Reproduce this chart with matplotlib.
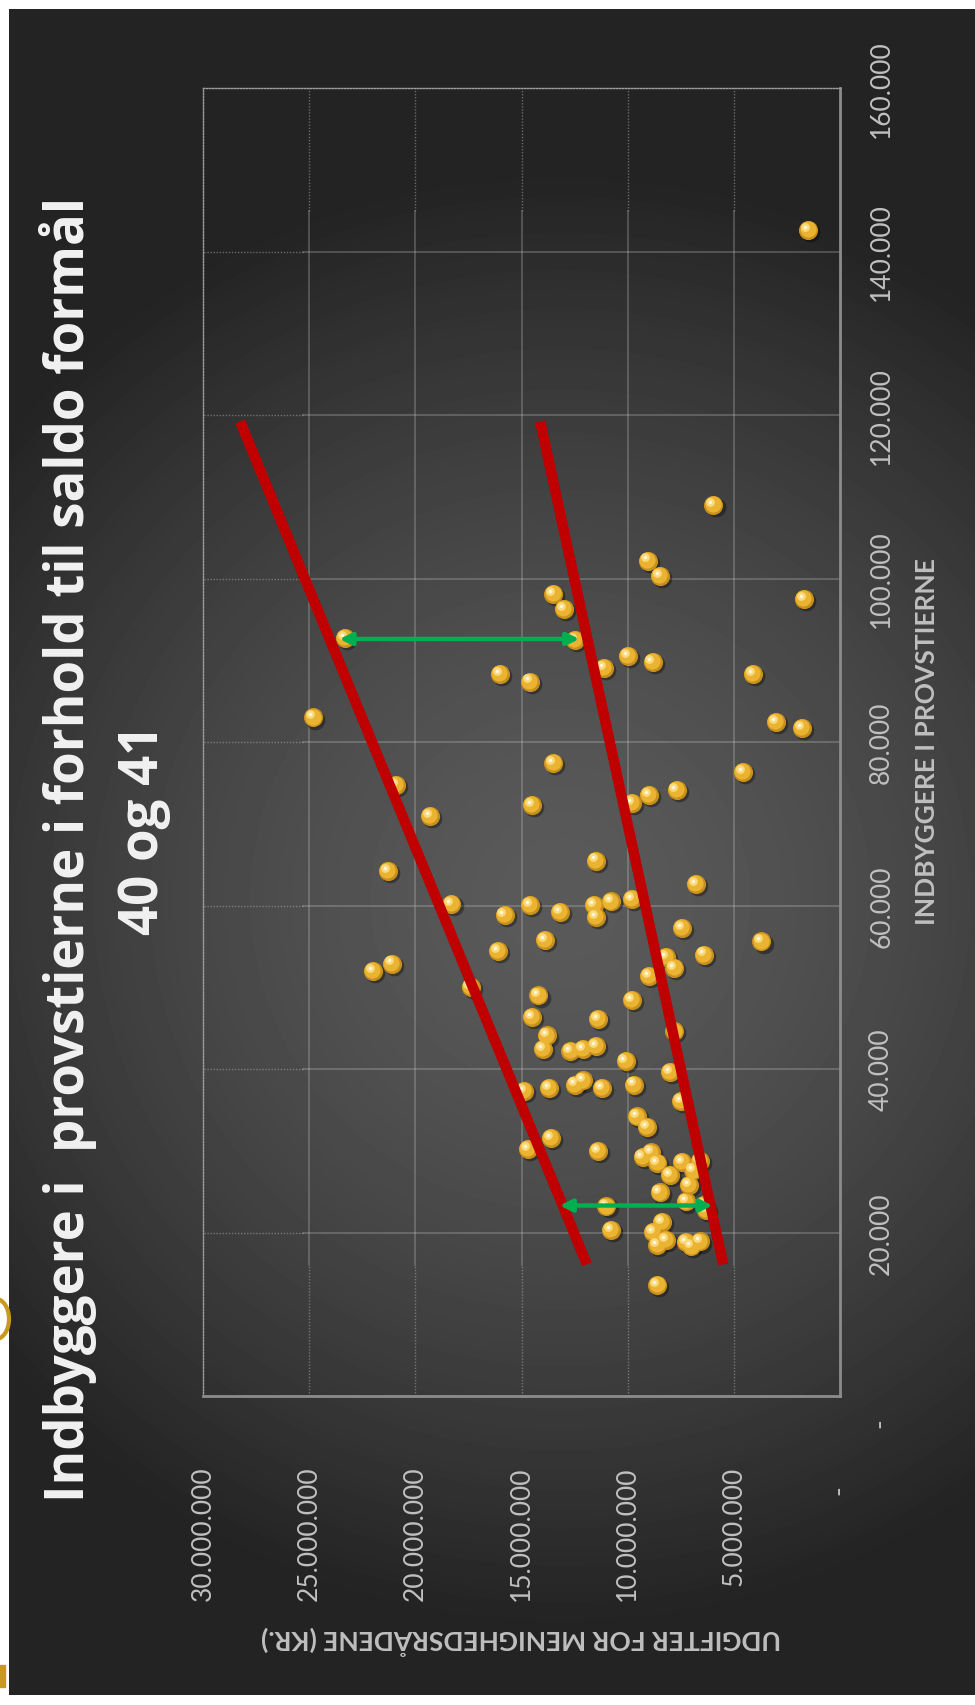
import numpy as np
import matplotlib.pyplot as plt
from matplotlib import transforms
from matplotlib.patches import Arc, Rectangle

# Udgifter for menighedsrådene (kr.) og indbyggere i provstierne
udgifter = [1.49e6, 5.96e6, 9.04e6, 8.47e6, 1.69e6, 13.5e6, 13.0e6, 23.3e6, 12.5e6, 10.0e6,
            8.83e6, 11.1e6, 16.0e6, 14.6e6, 4.1e6, 24.8e6, 3.0e6, 1.8e6, 13.5e6, 4.57e6,
            20.9e6, 7.7e6, 9.0e6, 14.5e6, 9.8e6, 19.3e6, 11.5e6, 21.3e6, 6.78e6, 18.3e6,
            14.6e6, 11.6e6, 10.8e6, 9.8e6, 15.8e6, 13.2e6, 11.5e6, 7.45e6, 13.9e6, 3.7e6,
            22.0e6, 21.1e6, 16.1e6, 8.2e6, 6.4e6, 7.8e6, 9.0e6, 17.4e6, 14.2e6, 9.8e6,
            14.5e6, 11.4e6, 7.8e6, 13.8e6, 11.5e6, 14.0e6, 12.7e6, 12.1e6, 10.1e6, 8.0e6,
            12.1e6, 12.5e6, 13.7e6, 11.2e6, 14.9e6, 9.7e6, 7.5e6, 9.55e6, 9.1e6, 13.6e6,
            14.7e6, 11.4e6, 8.9e6, 9.3e6, 8.6e6, 7.45e6, 6.6e6, 6.9e6, 8.0e6, 7.1e6,
            8.5e6, 7.25e6, 11.0e6, 6.3e6, 6.4e6, 8.4e6, 10.8e6, 8.8e6, 8.2e6, 8.6e6,
            7.25e6, 6.6e6, 7.0e6, 8.6e6]
indbyggere = [142600, 109000, 102200, 100300, 97500, 98100, 96300, 92700, 92500, 90500,
              89800, 89100, 88300, 87400, 88300, 83000, 82500, 81700, 77400, 76300,
              74700, 74100, 73500, 72300, 72500, 71000, 65500, 64200, 62600, 60200,
              60100, 60100, 60500, 60800, 58800, 59200, 58600, 57300, 55800, 55600,
              52000, 52900, 54400, 53700, 54000, 52400, 51400, 50000, 49000, 48400,
              46400, 46100, 44600, 44100, 42800, 42500, 42200, 42500, 41000, 39600,
              38600, 38100, 37700, 37700, 37300, 38100, 36100, 34200, 32900, 31600,
              30200, 30000, 29800, 29200, 28500, 28600, 28800, 27600, 27000, 25800,
              24900, 23800, 23200, 22800, 23400, 21300, 20300, 20100, 19100, 18500,
              18800, 18900, 18300, 13600]

# Håndtegnede linjer (øvre og nedre) samt pile
linje_oevre_u = [11.92e6, 28.25e6]
linje_oevre_i = [16100, 119200]
linje_nedre_u = [5.5e6, 14.12e6]
linje_nedre_i = [16100, 119200]
pil_top_u = [23.57e6, 12.28e6]
pil_top_i = 92600
pil_bund_u = [13.2e6, 6.0e6]
pil_bund_i = 23300

u_ticks = [0, 5e6, 10e6, 15e6, 20e6, 25e6, 30e6]
u_labels = ['-   ', '5.000.000', '10.000.000', '15.000.000', '20.000.000', '25.000.000', '30.000.000']
i_ticks = [0, 20000, 40000, 60000, 80000, 100000, 120000, 140000, 160000]
i_labels = ['-        ', '20.000', '40.000', '60.000', '80.000', '100.000', '120.000', '140.000', '160.000']

W, H = 975, 1706
fig = plt.figure(figsize=(W / 100, H / 100), dpi=100, facecolor='white')

# baggrund med radial gradient
bg = fig.add_axes([9 / W, 10 / H, 966 / W, 1686 / H], zorder=0)
yy, xx = np.mgrid[0:1686, 0:966]
r = np.sqrt((xx - 551) ** 2 + (yy - 890) ** 2)
vals = np.clip(0x5a - 0.0028 * r ** 1.5, 0x23, 0x5a) / 255.0
bg.imshow(vals, cmap='gray', vmin=0, vmax=1, aspect='auto', interpolation='bilinear')
bg.axis('off')

# guldfarvede rester af slide-dekoration i venstre kant
fig.patches.append(Arc((-4 / W, 1 - 1320 / H), 26 / W, 40 / H, theta1=-90, theta2=90,
                       transform=fig.transFigure, color='#C9981E', lw=3))
fig.patches.append(Rectangle((0, 1 - 1688 / H), 5 / W, 22 / H, transform=fig.transFigure,
                             color='#C9981E'))

ax = fig.add_axes([203 / W, 1 - 1397 / H, 637 / W, 1308 / H], zorder=2)
ax.patch.set_alpha(0)
ax.set_xlim(30e6, 0)
ax.set_ylim(0, 160000)

# gitterlinjer: fuldt optrukne i midten, prikkede i yderkanten
dot = (0, (1, 1.2))
for u in u_ticks[1:-1]:
    ax.plot([u, u], [16000, 145000], color='#d0d0d0', alpha=0.28, lw=1.3, zorder=1)
    ax.plot([u, u], [0, 16000], color='#bfbfbf', alpha=0.45, lw=1, ls=dot, zorder=1)
    ax.plot([u, u], [145000, 160000], color='#bfbfbf', alpha=0.45, lw=1, ls=dot, zorder=1)
for i in i_ticks[1:-1]:
    ax.plot([0, 25.3e6], [i, i], color='#d0d0d0', alpha=0.28, lw=1.3, zorder=1)
    ax.plot([25.3e6, 30e6], [i, i], color='#bfbfbf', alpha=0.45, lw=1, ls=dot, zorder=1)

for side in ['left', 'top']:
    ax.spines[side].set_color('#a0a0a0')
    ax.spines[side].set_linestyle(dot)
    ax.spines[side].set_linewidth(1)
for side in ['right', 'bottom']:
    ax.spines[side].set_color('#8c8c8c')
    ax.spines[side].set_linewidth(2)

# kugler (guld)
shadow = transforms.offset_copy(ax.transData, fig=fig, x=1.5, y=-1.5, units='points')
mid = transforms.offset_copy(ax.transData, fig=fig, x=-0.6, y=0.6, units='points')
hl = transforms.offset_copy(ax.transData, fig=fig, x=-2.2, y=2.2, units='points')
ax.scatter(udgifter, indbyggere, s=200, color='black', alpha=0.35, lw=0, transform=shadow, zorder=3)
ax.scatter(udgifter, indbyggere, s=190, color='#C8901A', lw=0, zorder=4)
ax.scatter(udgifter, indbyggere, s=135, color='#EAB432', lw=0, transform=mid, zorder=5)
ax.scatter(udgifter, indbyggere, s=40, color='#FAD97A', lw=0, transform=hl, zorder=6)
ax.scatter(udgifter, indbyggere, s=7, color='#FFF6D8', lw=0, transform=hl, zorder=7)

# røde linjer
ax.plot(linje_oevre_u, linje_oevre_i, color='#C00000', lw=7.5, solid_capstyle='butt', zorder=8)
ax.plot(linje_nedre_u, linje_nedre_i, color='#C00000', lw=7.5, solid_capstyle='butt', zorder=8)

# grønne pile
for pu, pi in [(pil_top_u, pil_top_i), (pil_bund_u, pil_bund_i)]:
    ax.annotate('', xy=(pu[1], pi), xytext=(pu[0], pi),
                arrowprops=dict(arrowstyle='<|-|>', color='#00B050', lw=3.2,
                                mutation_scale=18, shrinkA=0, shrinkB=0), zorder=9)

tick_font = dict(family='Lato', size=19, color='#c0c0c0')
ax.set_xticks(u_ticks)
ax.set_xticklabels(u_labels, rotation=90, **tick_font)
ax.yaxis.tick_right()
ax.set_yticks(i_ticks)
ax.set_yticklabels(i_labels, rotation=90, va='center', **tick_font)
ax.tick_params(axis='x', length=0, pad=50)
ax.tick_params(axis='y', length=0, pad=21)

lab_font = dict(family='Lato', size=19, weight='bold', color='#bfbfbf')
fig.text(927 / W, 1 - 742 / H, 'INDBYGGERE I PROVSTIERNE', rotation=90,
         ha='center', va='center', **lab_font)
fig.text(521 / W, 1 - 1640 / H, 'UDGIFTER FOR MENIGHEDSRÅDENE (KR.)', rotation=180,
         ha='center', va='center', **lab_font)

title_font = dict(family='Open Sans', weight='bold', size=38, color='#F2F2F2')
fig.text(68 / W, 1 - 849 / H, 'Indbyggere i  provstierne i forhold til saldo formål',
         rotation=90, ha='center', va='center', **title_font)
fig.text(144 / W, 1 - 830 / H, '40 og 41', rotation=90, ha='center', va='center', **title_font)

fig.savefig('out.png', dpi=100, facecolor=fig.get_facecolor())
